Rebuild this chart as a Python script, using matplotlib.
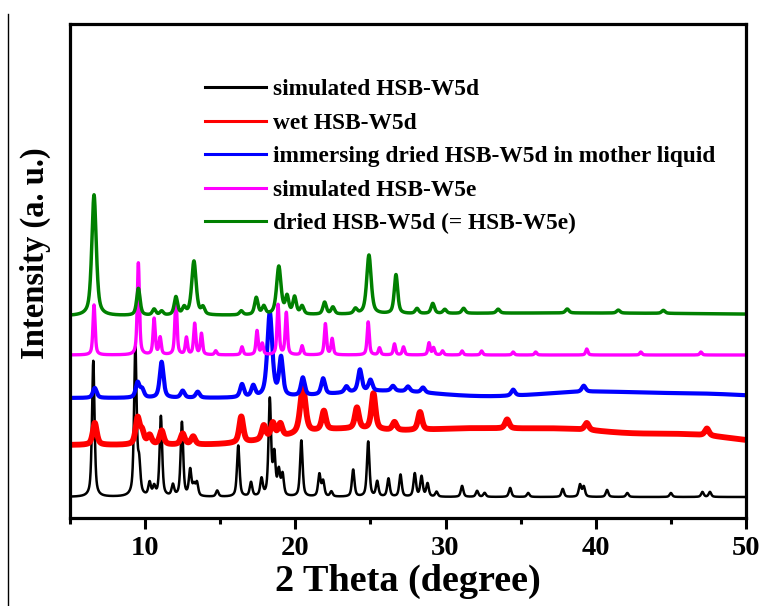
import numpy as np
import matplotlib
matplotlib.use("Agg")
import matplotlib.pyplot as plt
from matplotlib.lines import Line2D

plt.rcParams['font.family'] = ['Liberation Serif', 'DejaVu Serif']
plt.rcParams['font.weight'] = 'bold'

# ---------------- data ----------------
labels = ["simulated HSB-W5d", "wet HSB-W5d",
          "immersing dried HSB-W5d in mother liquid",
          "simulated HSB-W5e", "dried HSB-W5d (= HSB-W5e)"]
colors = ["#000000", "#ff0000", "#0000ff", "#ff00ff", "#008000"]

# vertical offsets (stacking) of each pattern
offsets = [21, 73, 120, 163, 202]

# black: simulated HSB-W5d  (2theta, intensity)
sim5d_pos = [6.55, 9.35, 9.6, 10.3, 10.6, 11.05, 11.85, 12.45, 13.0, 13.25, 13.45,
             14.8, 16.2, 17.05, 17.75, 18.3, 18.6, 18.9, 19.15, 20.4, 21.6, 21.85,
             22.4, 23.85, 24.85, 25.45, 26.2, 27.0, 27.95, 28.4, 28.8, 29.4, 31.1,
             32.1, 32.6, 34.3, 35.5, 37.8, 38.95, 39.2, 40.75, 42.1, 45.0, 47.1, 47.6]
sim5d_int = [136, 150, 30, 13, 9, 80, 11, 74, 26, 10, 13,
             6, 51, 14, 17, 96, 40, 24, 21, 56, 22, 15,
             5, 27, 55, 15, 18, 22, 23, 20, 13, 5, 11,
             6, 4, 9, 4, 8, 12, 10, 7, 4, 4, 5, 5]

# red: wet HSB-W5d
wet_pos = [6.65, 9.5, 9.8, 10.3, 11.1, 12.5, 13.2, 16.4, 17.9, 18.5, 19.0,
           20.5, 21.9, 24.1, 25.2, 26.6, 28.3, 34.1, 39.4, 47.4]
wet_int = [22, 26, 12, 9, 14, 11, 8, 26, 14, 15, 13,
           47, 19, 21, 36, 8, 18, 9, 7, 7]
wet_bg_pos = [23, 31, 38, 46]
wet_bg_int = [15, 14, 14, 10]

# blue: immersing dried HSB-W5d in mother liquid
imm_pos = [6.65, 9.5, 9.8, 11.1, 12.5, 13.5, 16.45, 17.2, 18.3, 19.05, 20.5,
           21.85, 23.4, 24.3, 25.0, 26.5, 27.5, 28.5, 34.5, 39.2]
imm_int = [10, 15, 8, 36, 7, 6, 13, 11, 84, 38, 18,
           16, 6, 22, 11, 5, 5, 5, 6, 6]
imm_bg_pos = [26, 39.5, 47]
imm_bg_int = [7, 6, 4]

# magenta: simulated HSB-W5e
sim5e_pos = [6.6, 9.55, 10.6, 11.0, 12.05, 12.75, 13.3, 13.75, 14.7, 16.45, 17.45,
             17.8, 18.85, 19.4, 20.45, 22.0, 22.45, 24.85, 25.6, 26.6, 27.2, 28.9,
             29.2, 29.8, 31.1, 32.4, 34.5, 36.0, 39.4, 43.0, 47.0]
sim5e_int = [50, 92, 36, 17, 57, 17, 31, 21, 4, 8, 24,
             11, 50, 42, 9, 31, 16, 33, 7, 11, 8, 12,
             7, 4, 4, 4, 3, 3, 6, 3, 3]

# green: dried HSB-W5d (= HSB-W5e)
dry_pos = [6.6, 9.55, 10.6, 11.1, 12.05, 12.6, 13.25, 13.85, 16.4, 17.4, 17.9,
           18.9, 19.45, 19.95, 20.45, 21.95, 22.5, 24.0, 24.9, 26.7, 28.1, 29.15,
           29.95, 31.2, 33.5, 38.1, 41.5, 44.5]
dry_int = [121, 27, 6, 4, 18, 7, 54, 7, 4, 17, 8,
           48, 17, 17, 8, 12, 7, 5, 59, 39, 5, 10,
           4, 5, 4, 4, 3, 3]

widths = [0.2, 0.32, 0.3, 0.17, 0.27]
x_ticks = [10, 20, 30, 40, 50]


# ---------------- helpers ----------------
def pattern(x, pos, inten, fwhm, bg_pos=(), bg_int=(), bg_fwhm=8.0, eta=0.6):
    y = np.zeros_like(x)
    for p, h in zip(pos, inten):
        w = fwhm * (1.3 if h > 45 and fwhm > 0.25 else 1.0)
        lor = 1.0 / (1.0 + (2 * (x - p) / w) ** 2)
        gau = np.exp(-4 * np.log(2) * ((x - p) / w) ** 2)
        y += h * (eta * lor + (1 - eta) * gau)
    for p, h in zip(bg_pos, bg_int):
        y += h * np.exp(-4 * np.log(2) * ((x - p) / bg_fwhm) ** 2)
    return y


x = np.linspace(5, 50, 4501)
curves = [
    pattern(x, sim5d_pos, sim5d_int, widths[0]),
    pattern(x, wet_pos, wet_int, widths[1], wet_bg_pos, wet_bg_int),
    pattern(x, imm_pos, imm_int, widths[2], imm_bg_pos, imm_bg_int),
    pattern(x, sim5e_pos, sim5e_int, widths[3]),
    pattern(x, dry_pos, dry_int, widths[4], [38], [3], 30),
]
lws = [1.8, 4.2, 3.0, 2.4, 2.5]

# ---------------- figure ----------------
W, H = 763, 606
fig = plt.figure(figsize=(W / 100, H / 100), dpi=100)
ax = fig.add_axes([70 / W, 1 - 518 / H, (746 - 70) / W, (518 - 24) / H])

for c, off, col, lw, lab in zip(curves, offsets, colors, lws, labels):
    ax.plot(x, c + off, color=col, lw=lw, label=lab, solid_joinstyle='round')

ax.set_xlim(5, 50)
ax.set_ylim(0, 494)
ax.set_xticks(x_ticks)
ax.set_xticks([5, 15, 25, 35, 45], minor=True)
ax.set_yticks([])
for s in ax.spines.values():
    s.set_linewidth(2.3)
ax.tick_params(axis='x', which='major', direction='out', length=8, width=2.2,
               labelsize=20.5, pad=5)
ax.tick_params(axis='x', which='minor', direction='out', length=4.5, width=2.2)
for t in ax.get_xticklabels():
    t.set_fontweight('bold')

ax.set_xlabel("2 Theta (degree)", fontsize=27.5, fontweight='bold')
ax.xaxis.set_label_coords(0.5, (518 - 581) / 494, transform=ax.transAxes)
ax.xaxis.label.set_va('center')
ax.set_ylabel("Intensity (a. u.)", fontsize=23.5, fontweight='bold')
ax.yaxis.set_label_coords((35 - 70) / 676, (518 - 253) / 494)
ax.yaxis.label.set_va('center')

handles = [Line2D([], [], color=c, lw=2.2) for c in colors]
leg = fig.legend(handles, labels, loc='upper left',
                 bbox_to_anchor=(205 / W, 1 - 79 / H), frameon=False,
                 borderpad=0, borderaxespad=0, handlelength=2.6,
                 handletextpad=0.3, labelspacing=0.52,
                 prop={'size': 16.8, 'weight': 'bold'})

# thin border line at the far left of the picture
fig.add_artist(Line2D([7.5 / W, 7.5 / W], [0, 1 - 14 / H],
                      transform=fig.transFigure, color='black', lw=1.0))

fig.savefig("out.png", dpi=100)
